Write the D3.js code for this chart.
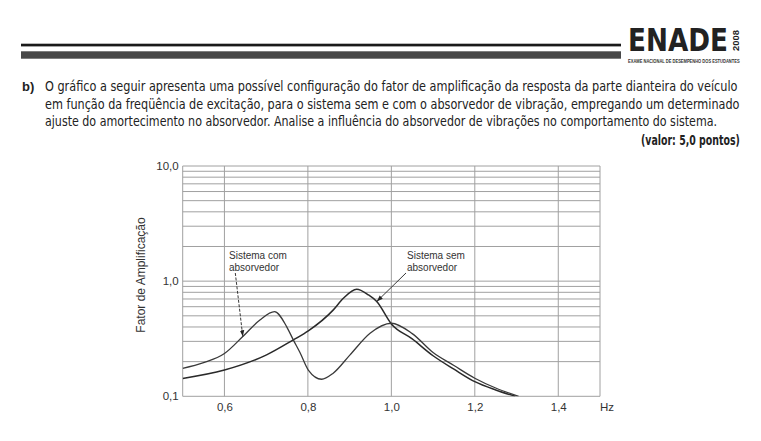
<!DOCTYPE html>
<html><head><meta charset="utf-8">
<script src="https://cdn.jsdelivr.net/npm/d3@7"></script>
<style>
html,body{margin:0;padding:0;background:#fff;}
svg{display:block;}
</style></head>
<body>
<script>
// ---- data ----
const paragraphLines = [
  "O gráfico a seguir apresenta uma possível configuração do fator de amplificação da resposta da parte dianteira do veículo",
  "em função da freqüência de excitação, para o sistema sem e com o absorvedor de vibração, empregando um determinado",
  "ajuste do amortecimento no absorvedor. Analise a influência do absorvedor de vibrações no comportamento do sistema."
];
const scoreText = "(valor: 5,0 pontos)";
const xTicks = [0.6, 0.8, 1.0, 1.2, 1.4];
const yTicks = [0.1, 1, 10];
const yGrid = [0.1,0.2,0.3,0.4,0.5,0.6,0.7,0.8,0.9,1,2,3,4,5,6,7,8,9,10];
const semFreq = [0.5,0.6,0.701,0.765,0.801,0.861,0.885,0.917,0.945,0.965,1.0,1.05,1.1,1.15,1.2,1.25,1.297];
const semVal  = [0.143,0.169,0.229,0.309,0.37,0.563,0.711,0.852,0.76,0.665,0.425,0.315,0.225,0.172,0.134,0.1135,0.1];
const comFreq = [0.5,0.55,0.6,0.644,0.685,0.72,0.749,0.765,0.781,0.801,0.833,0.86,0.901,0.949,1.0,1.05,1.1,1.15,1.2,1.25,1.305];
const comVal  = [0.175,0.196,0.235,0.33,0.46,0.544,0.403,0.309,0.24,0.169,0.1406,0.158,0.229,0.353,0.431,0.35,0.24,0.185,0.1435,0.118,0.1];

const W = 761, H = 441;
const svg = d3.select("body").append("svg").attr("width", W).attr("height", H);
const txtFont = "'Liberation Sans Narrow','DejaVu Sans Condensed','Liberation Sans',Arial,sans-serif";
const chartFont = "'Liberation Sans',Arial,sans-serif";

// fit a text horizontally into [x0, x0+target] by scaling its glyphs
function fitText(sel, x0, y0, target, anchorEnd){
  const w = sel.node().getComputedTextLength();
  const s = target / w;
  const tx = anchorEnd ? x0 - target : x0;
  sel.attr("x", 0).attr("y", 0).attr("transform", `translate(${tx},${y0}) scale(${s},1)`);
}

// ---- header ----
svg.append("rect").attr("x",21).attr("y",43.7).attr("width",600).attr("height",2.7).attr("fill","#1a1a1a");
svg.append("rect").attr("x",21).attr("y",51.3).attr("width",600).attr("height",7.4).attr("fill","#484848");
fitText(svg.append("text").attr("font-family",txtFont).attr("font-weight","bold")
  .attr("font-size",32).attr("fill","#222").text("ENADE"), 628, 50.5, 100);
svg.append("text").attr("transform","translate(739,51) rotate(-90)").attr("font-family",chartFont).attr("font-weight","bold")
  .attr("font-size",8.5).attr("fill","#222").attr("textLength",21).attr("lengthAdjust","spacingAndGlyphs").text("2008");
fitText(svg.append("text").attr("font-family",chartFont).attr("font-weight","bold")
  .attr("font-size",4.5).attr("fill","#333").text("EXAME NACIONAL DE DESEMPENHO DOS ESTUDANTES"), 628, 62.5, 112);

// ---- paragraph ----
const lineY = [91, 108.5, 126];
svg.append("text").attr("x",22).attr("y",lineY[0]).attr("font-family",chartFont).attr("font-weight","bold")
  .attr("font-size",13).attr("fill","#222").text("b)");
const lineEnds = [738, 740, 718];
paragraphLines.forEach((t,i)=>{
  fitText(svg.append("text").attr("font-family",txtFont).attr("font-size",14.5).attr("fill","#222").text(t),
    45, lineY[i], lineEnds[i]-45);
});
fitText(svg.append("text").attr("font-family",txtFont).attr("font-weight","bold").attr("font-size",14.5)
  .attr("fill","#222").text(scoreText), 740, 145, 99, true);

// ---- chart ----
const x = d3.scaleLinear().domain([0.5,1.5]).range([182.7,600]);
const y = d3.scaleLog().domain([0.1,10]).range([396.3,166]);
const fmt = d => d3.format(".1f")(d).replace(".", ",");
const grid = svg.append("g");
grid.selectAll("line.h").data(yGrid).join("line")
  .attr("x1",x(0.5)).attr("x2",x(1.5)).attr("y1",d=>y(d)).attr("y2",d=>y(d))
  .attr("stroke","#a0a0a0").attr("stroke-width",1);
grid.selectAll("line.v").data([0.5].concat(xTicks,[1.5])).join("line")
  .attr("x1",d=>x(d)).attr("x2",d=>x(d)).attr("y1",y(0.1)).attr("y2",y(10))
  .attr("stroke","#a0a0a0").attr("stroke-width",1);

const yAxis = svg.append("g").attr("transform",`translate(${x(0.5)},0)`)
  .call(d3.axisLeft(y).tickValues(yTicks).tickFormat(fmt).tickSize(0).tickPadding(4));
yAxis.select(".domain").remove();
yAxis.selectAll("text").attr("font-family",chartFont).attr("font-size",11.5).attr("fill","#333");

const xAxis = svg.append("g").attr("transform",`translate(0,${y(0.1)})`)
  .call(d3.axisBottom(x).tickValues(xTicks).tickFormat(fmt).tickSize(0).tickPadding(7));
xAxis.select(".domain").remove();
xAxis.selectAll("text").attr("font-family",chartFont).attr("font-size",11.5).attr("fill","#333");

svg.append("text").attr("x",600).attr("y",411).attr("font-family",chartFont).attr("font-size",11.5)
  .attr("fill","#333").text("Hz");
svg.append("text").attr("transform","translate(145,275) rotate(-90)").attr("text-anchor","middle")
  .attr("font-family",chartFont).attr("font-size",12).attr("fill","#333").text("Fator de Amplificação");

svg.append("clipPath").attr("id","pc").append("rect")
  .attr("x",x(0.5)).attr("y",y(10)).attr("width",x(1.5)-x(0.5)).attr("height",y(0.1)-y(10));
const line = d3.line().x(d=>x(d[0])).y(d=>y(d[1])).curve(d3.curveMonotoneX);
const semData = semFreq.map((f,i)=>[f,semVal[i]]);
const comData = comFreq.map((f,i)=>[f,comVal[i]]);
svg.append("path").datum(semData).attr("d",line).attr("fill","none").attr("stroke","#2a2a2a")
  .attr("stroke-width",1.5).attr("clip-path","url(#pc)");
svg.append("path").datum(comData).attr("d",line).attr("fill","none").attr("stroke","#3a3a3a")
  .attr("stroke-width",1.3).attr("clip-path","url(#pc)");

// annotations
const defs = svg.append("defs");
defs.append("marker").attr("id","ah").attr("viewBox","0 0 10 10").attr("refX",10).attr("refY",5)
  .attr("markerWidth",7).attr("markerHeight",7).attr("orient","auto-start-reverse")
  .append("path").attr("d","M0,1.5 L10,5 L0,8.5 Z").attr("fill","#222");
function note(lines, tx, ty, ax1, ay1, af, av, dashed){
  lines.forEach((t,i)=>svg.append("text").attr("x",tx).attr("y",ty+i*12).attr("font-family",chartFont)
    .attr("font-size",10).attr("fill","#333").text(t));
  svg.append("line").attr("x1",ax1).attr("y1",ay1).attr("x2",x(af)).attr("y2",y(av))
    .attr("stroke","#222").attr("stroke-width",0.9).attr("stroke-dasharray",dashed?"3,1.5":null)
    .attr("marker-end","url(#ah)");
}
note(["Sistema com","absorvedor"], 229, 259, 235.3, 273, 0.644, 0.33, true);
note(["Sistema sem","absorvedor"], 407, 259, 406, 273, 0.965, 0.665, false);
</script>
</body></html>
